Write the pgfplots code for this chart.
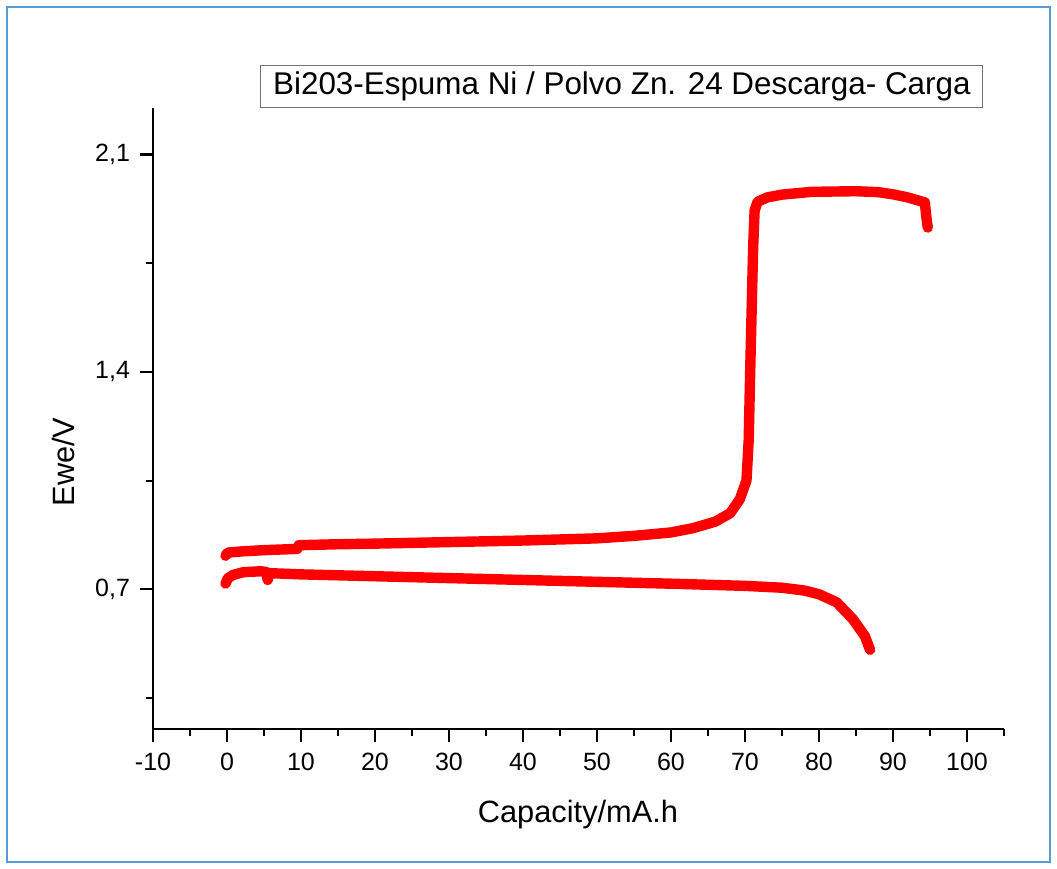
\documentclass[border=0pt]{standalone}
\usepackage{pgfplots}
\pgfplotsset{compat=1.18}
\usepackage{fontspec}
\setmainfont{Liberation Sans}
\definecolor{framebl}{RGB}{91,155,213}

% Discharge branch: capacity (mA.h) vs Ewe (V)
\pgfplotstableread{
x y
-0.2 0.718
0.1 0.735
0.8 0.746
2.2 0.755
4.5 0.758
5.3 0.756
5.5 0.730
5.7 0.752
10 0.748
20 0.742
30 0.736
40 0.730
50 0.724
60 0.718
70 0.711
75 0.705
78 0.696
80 0.684
82.4 0.658
84.6 0.603
86.2 0.549
86.9 0.505
}\discharge

% Charge branch
\pgfplotstableread{
x y
-0.2 0.808
0.1 0.818
2 0.822
5 0.826
9.5 0.830
9.7 0.842
15 0.845
20 0.847
30 0.852
40 0.857
50 0.864
55 0.872
60 0.883
63 0.897
66 0.918
68 0.945
69.3 0.990
70.2 1.050
70.5 1.180
70.7 1.400
70.9 1.600
71.1 1.800
71.3 1.920
71.7 1.948
73 1.962
75 1.971
79 1.980
85 1.982
88 1.979
90 1.972
92 1.962
94.3 1.946
94.5 1.900
94.7 1.865
}\charge

\begin{document}
\begin{tikzpicture}
\useasboundingbox[fill=white] (-76.5pt,-70pt) rectangle (452pt,364.5pt);
\begin{axis}[
  scale only axis,
  width=425.5pt, height=310.5pt,
  xmin=-10, xmax=105, ymin=0.25, ymax=2.25,
  axis x line*=bottom, axis y line*=left,
  axis line style={line width=1.1pt},
  tick style={line width=1.1pt, black},
  tick align=outside,
  major tick length=6.5pt, minor tick length=3.5pt,
  xtick={-10,0,10,20,30,40,50,60,70,80,90,100},
  xticklabels={-10,0,10,20,30,40,50,60,70,80,90,100},
  minor xtick={-5,5,15,25,35,45,55,65,75,85,95,105},
  ytick={0.7,1.4,2.1},
  yticklabels={{0,7},{1,4},{2,1}},
  minor ytick={0.35,1.05,1.75},
  ticklabel style={font=\fontsize{12.5}{15}\selectfont},
  xticklabel style={yshift=-2pt},
  yticklabel style={xshift=-1.5pt},
  xlabel={Capacity/mA.h}, ylabel={Ewe/V},
  every axis x label/.style={at={(axis description cs:0.4994,-0.1498)}, anchor=base,
    font=\fontsize{15.4}{18}\selectfont},
  every axis y label/.style={at={(axis description cs:-0.1046,0.43)}, anchor=center, rotate=90,
    font=\fontsize{15.4}{18}\selectfont},
  clip=false,
]
\addplot[red, line width=5.2pt, line cap=round, line join=round] table[x=x,y=y] {\discharge};
\addplot[red, line width=5.2pt, line cap=round, line join=round] table[x=x,y=y] {\charge};
\node[draw=black!55, line width=0.6pt, fill=white, minimum width=361pt, minimum height=21pt,
      inner sep=0pt, font=\fontsize{15.7}{18}\selectfont]
  at (axis description cs:0.551,1.035) {Bi203-Espuma Ni / Polvo Zn. 24 Descarga- Carga};
\end{axis}
\draw[framebl, line width=1.3pt] (-73pt,-66.5pt) rectangle (448.5pt,361pt);
\end{tikzpicture}
\end{document}
